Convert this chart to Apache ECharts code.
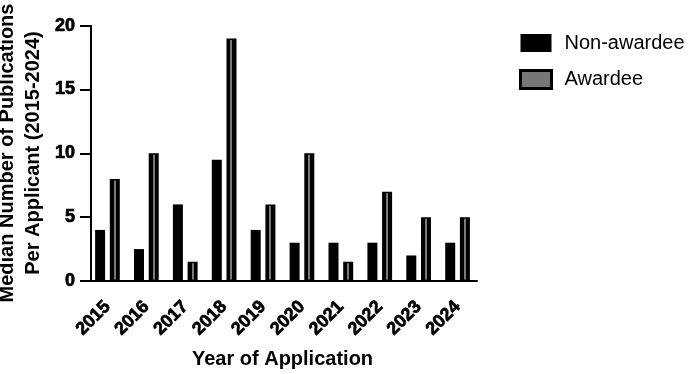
<!DOCTYPE html>
<html>
<head>
<meta charset="utf-8">
<script src="https://cdn.jsdelivr.net/npm/echarts@6/dist/echarts.min.js"></script>
<style>
html,body{margin:0;padding:0;background:#fff;}
#chart{width:689px;height:374px;}
</style>
</head>
<body>
<div id="chart"></div>
<script>
const years = ['2015','2016','2017','2018','2019','2020','2021','2022','2023','2024'];
const nonAwardee = [4, 2.5, 6, 9.5, 4, 3, 3, 3, 2, 3];
const awardee = [8, 10, 1.5, 19, 6, 10, 1.5, 7, 5, 5];
const yTicks = [0, 5, 10, 15, 20];

const FONT = 'Liberation Sans, Arial, Helvetica, sans-serif';
const chart = echarts.init(document.getElementById('chart'));
chart.setOption({
  backgroundColor: '#fff',
  animation: false,
  grid: { left: 88, right: 212, top: 25.7, bottom: 93, containLabel: false },
  legend: {
    orient: 'vertical',
    left: 519,
    top: 33,
    padding: 0,
    itemWidth: 31,
    itemHeight: 18,
    itemGap: 16,
    icon: 'rect',
    textStyle: { fontFamily: FONT, fontSize: 20, color: '#000', padding: [0, 0, 0, 8] },
    data: [
      { name: 'Non-awardee', itemStyle: { color: '#000', borderWidth: 0 } },
      { name: 'Awardee', itemStyle: { color: '#777', borderColor: '#000', borderWidth: 3 } }
    ]
  },
  xAxis: {
    type: 'category',
    data: years,
    axisLine: { lineStyle: { color: '#000', width: 2 } },
    axisTick: { alignWithLabel: true, length: 11, lineStyle: { color: '#000', width: 2 } },
    axisLabel: { rotate: 45, margin: 23, fontFamily: FONT, fontWeight: 'bold', fontSize: 18, color: '#000', textBorderColor: '#000', textBorderWidth: 0.7 },
    name: 'Year of Application',
    nameLocation: 'middle',
    nameGap: 68,
    nameTextStyle: { fontFamily: FONT, fontWeight: 'bold', fontSize: 20, color: '#000' }
  },
  yAxis: {
    type: 'value',
    min: yTicks[0],
    max: yTicks[yTicks.length - 1],
    interval: 5,
    offset: -3,
    splitLine: { show: false },
    axisLine: { show: true, lineStyle: { color: '#000', width: 2 } },
    axisTick: { show: true, length: 11, lineStyle: { color: '#000', width: 2 } },
    axisLabel: { margin: 16, fontFamily: FONT, fontWeight: 'bold', fontSize: 18, color: '#000', textBorderColor: '#000', textBorderWidth: 0.7 }
  },
  graphic: [{
    type: 'text',
    x: 20,
    y: 153,
    rotation: Math.PI / 2,
    style: {
      text: 'Median Number of Publications\nPer Applicant (2015-2024)',
      font: 'bold 20px ' + FONT,
      lineHeight: 26,
      fill: '#000',
      align: 'center',
      verticalAlign: 'middle'
    }
  }],
  series: [
    {
      name: 'Non-awardee',
      type: 'bar',
      data: nonAwardee,
      barWidth: 10,
      barGap: '47%',
      itemStyle: { color: '#000' }
    },
    {
      name: 'Awardee',
      type: 'bar',
      data: awardee,
      barWidth: 10,
      itemStyle: {
        color: {
          type: 'linear', x: 0, y: 0, x2: 1, y2: 0,
          colorStops: [
            { offset: 0, color: '#000' }, { offset: 0.4, color: '#000' },
            { offset: 0.4, color: '#7a7a7a' }, { offset: 0.6, color: '#7a7a7a' },
            { offset: 0.6, color: '#000' }, { offset: 1, color: '#000' }
          ]
        },
        borderColor: '#000',
        borderWidth: 1.5
      }
    }
  ]
});
</script>
</body>
</html>
